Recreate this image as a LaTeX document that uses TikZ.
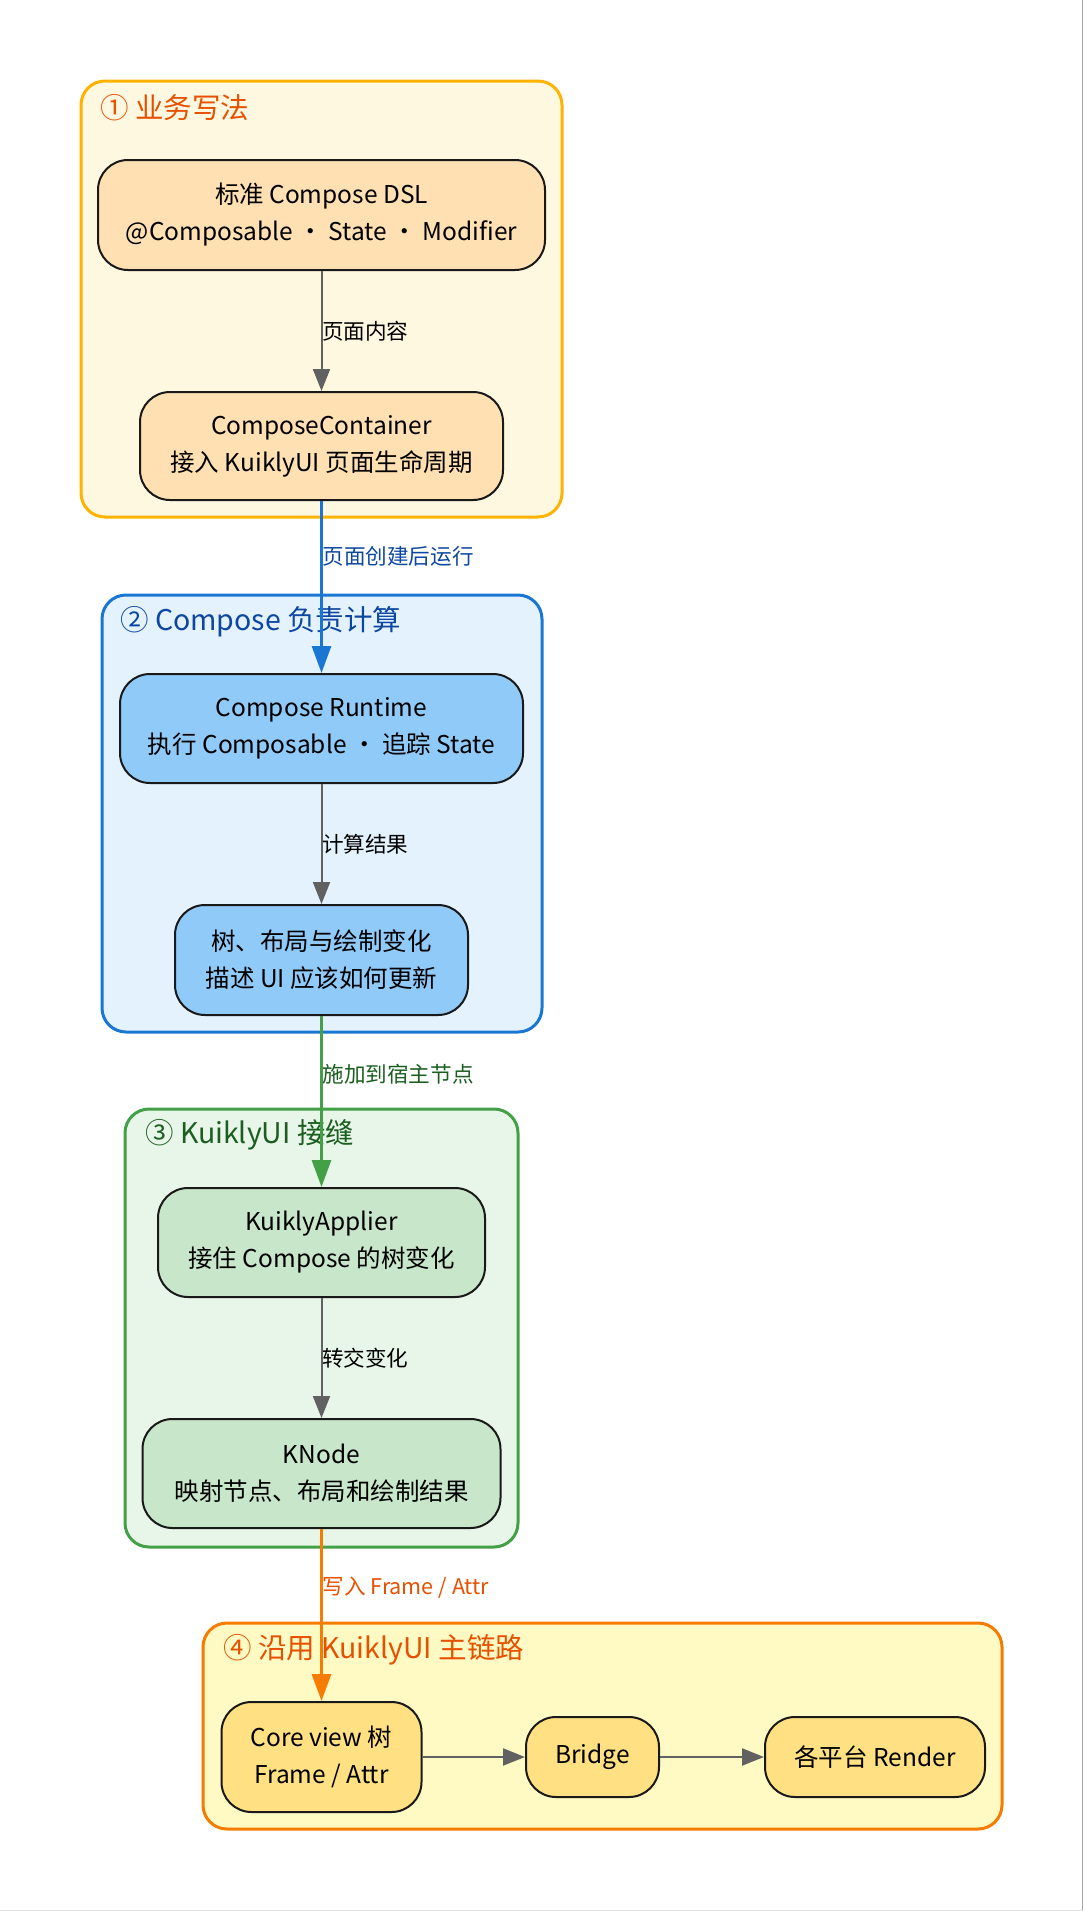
\documentclass[tikz,border=0pt]{standalone}
\usepackage{fontspec}
\setmainfont{Noto Sans CJK SC}
\usetikzlibrary{arrows.meta}

\definecolor{gAfill}{HTML}{FFF8E1}\definecolor{gAline}{HTML}{FFB300}\definecolor{gAnode}{HTML}{FFE0B2}
\definecolor{gBfill}{HTML}{E3F2FD}\definecolor{gBline}{HTML}{1976D2}\definecolor{gBnode}{HTML}{90CAF9}
\definecolor{gCfill}{HTML}{E8F5E9}\definecolor{gCline}{HTML}{43A047}\definecolor{gCnode}{HTML}{C8E6C9}
\definecolor{gDfill}{HTML}{FFF9C4}\definecolor{gDline}{HTML}{F57C00}\definecolor{gDnode}{HTML}{FFE082}
\definecolor{txtorange}{HTML}{E65100}\definecolor{txtblue}{HTML}{0D47A1}\definecolor{txtgreen}{HTML}{1B5E20}
\definecolor{arrowgray}{HTML}{616161}

\tikzset{
  grp/.style={line width=3pt, rounded corners=24pt},
  gtitle/.style={anchor=west, inner sep=0pt, font=\fontsize{28.5}{33}\selectfont},
  box/.style={draw=black!90, line width=2pt, rounded corners=30pt, align=center,
    inner sep=0pt, font=\fontsize{24.5}{37}\selectfont},
  flow/.style={draw=arrowgray, line width=2pt, -{Triangle[length=22pt,width=17pt]}},
  hop/.style={line width=3pt, -{Triangle[length=27pt,width=19pt]}},
  elabel/.style={anchor=west, inner sep=0pt, xshift=-0.5pt, font=\fontsize{21.6}{26}\selectfont},
}

\begin{document}
\begin{tikzpicture}[x=1pt,y=-1pt]
  \useasboundingbox (0,0) rectangle (1084,1911);
  \draw[gray!70] (1082.5,0) -- (1082.5,1910);
  \draw[gray!25] (0,1910) -- (1082.5,1910);

  % 四个分组
  \draw[grp, fill=gAfill, draw=gAline] (81,81) rectangle (562,517);
  \node[gtitle, text=txtorange] (tA) at (100,108) {① 业务写法};
  \draw[grp, fill=gBfill, draw=gBline] (102,595) rectangle (542,1032);
  \node[gtitle, text=txtblue] (tB) at (120,622) {② Compose 负责计算};
  \draw[grp, fill=gCfill, draw=gCline] (125,1109) rectangle (518,1547);
  \node[gtitle, text=txtgreen] (tC) at (145,1135) {③ KuiklyUI 接缝};
  \draw[grp, fill=gDfill, draw=gDline] (203,1623) rectangle (1002,1829);
  \node[gtitle, text=txtorange] (tD) at (223,1650) {④ 沿用 KuiklyUI 主链路};

  % 节点
  \node[box, fill=gAnode, minimum width=447pt, minimum height=110pt] (dsl) at (321.5,215)
    {标准 Compose DSL\\@Composable ・ State ・ Modifier};
  \node[box, fill=gAnode, minimum width=363pt, minimum height=108pt] (container) at (321.5,446)
    {ComposeContainer\\接入 KuiklyUI 页面生命周期};
  \node[box, fill=gBnode, minimum width=403pt, minimum height=109pt] (runtime) at (321.5,728.5)
    {Compose Runtime\\执行 Composable ・ 追踪 State};
  \node[box, fill=gBnode, minimum width=293pt, minimum height=110pt] (changes) at (321.5,960)
    {树、布局与绘制变化\\描述 UI 应该如何更新};
  \node[box, fill=gCnode, minimum width=327pt, minimum height=109pt] (applier) at (321.5,1242.5)
    {KuiklyApplier\\接住 Compose 的树变化};
  \node[box, fill=gCnode, minimum width=358pt, minimum height=109pt] (knode) at (321.5,1473.5)
    {KNode\\映射节点、布局和绘制结果};
  \node[box, fill=gDnode, minimum width=200pt, minimum height=110pt] (core) at (321.5,1757)
    {Core view 树\\Frame / Attr};
  \node[box, fill=gDnode, minimum width=133pt, minimum height=80pt] (bridge) at (592.5,1757)
    {Bridge};
  \node[box, fill=gDnode, minimum width=220pt, minimum height=80pt] (render) at (875,1757)
    {各平台 Render};

  % 连线
  \draw[flow] (dsl) -- (container) node[elabel, pos=0.5] {页面内容};
  \draw[hop, draw=gBline, fill=gBline] (container) -- (runtime)
    node[elabel, pos=0.32, text=txtblue] {页面创建后运行};
  \draw[flow] (runtime) -- (changes) node[elabel, pos=0.5] {计算结果};
  \draw[hop, draw=gCline, fill=gCline] (changes) -- (applier)
    node[elabel, pos=0.34, text=txtgreen] {施加到宿主节点};
  \draw[flow] (applier) -- (knode) node[elabel, pos=0.5] {转交变化};
  \draw[hop, draw=gDline, fill=gDline] (knode) -- (core)
    node[elabel, pos=0.34, text=txtorange] {写入 Frame / Attr};
  \draw[flow] (core) -- (bridge);
  \draw[flow] (bridge) -- (render);
\end{tikzpicture}
\end{document}
